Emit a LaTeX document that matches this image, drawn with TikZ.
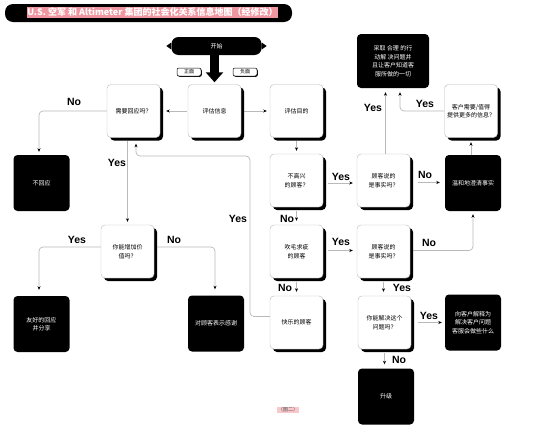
\documentclass[tikz,border=0pt]{standalone}
\usepackage{fontspec}
\setmainfont{Noto Sans CJK SC}
\newfontfamily\labfont{Liberation Sans}
\usetikzlibrary{arrows.meta,shadows,backgrounds}
\definecolor{titlepink}{RGB}{240,150,160}
\definecolor{figpink}{RGB}{248,200,205}
\definecolor{conngray}{RGB}{185,185,185}
\begin{document}
\begin{tikzpicture}[x=1pt,y=-1pt,
  wbox/.style={draw=gray!55, line width=0.4pt, fill=white, rounded corners=4pt,
    minimum width=53pt, minimum height=53pt, inner sep=1pt, align=center,
    font=\fontsize{6}{8.5}\selectfont,
    general shadow={fill=black, shadow xshift=3pt, shadow yshift=-3pt}},
  bbox/.style={fill=black, text=white, rounded corners=4pt,
    minimum width=56pt, minimum height=56pt, inner sep=1pt, align=center,
    font=\fontsize{6}{8.5}\selectfont},
  conn/.style={draw=conngray, line width=0.7pt, rounded corners=4pt,
    -{Stealth[length=3.5pt,width=3pt,color=black]}},
  lab/.style={font=\labfont\bfseries\fontsize{10.5}{12}\selectfont, inner sep=0pt},
  tag/.style={draw=black, line width=0.5pt, rounded corners=2pt, fill=white,
    minimum width=24pt, minimum height=8pt, inner sep=0pt,
    font=\fontsize{5}{6}\selectfont,
    general shadow={fill=black, shadow xshift=0.8pt, shadow yshift=-0.8pt}},
]
\useasboundingbox (0,0) rectangle (560,431);

% title
\node[fill=black, rounded corners=8pt, minimum width=287pt, minimum height=18pt, inner sep=0pt] (titlebar) at (148.5,13) {};
\node[fill=titlepink, text=white, inner sep=0.6pt, minimum height=11pt,
  font=\bfseries\fontsize{9}{10}\selectfont] (title) at (152.5,12.5)
  {U.S. 空军 和 Altimeter 集团的社会化关系信息地图（经修改）};

% start
\node[fill=black, text=white, rounded corners=7pt, minimum width=90pt, minimum height=18pt,
  inner sep=0pt, font=\fontsize{6}{7}\selectfont] (start) at (216.5,46) {开始};
\fill ([yshift=3.5pt]start.west) -- ([xshift=-5pt]start.west) -- ([yshift=-3.5pt]start.west) -- cycle;
\fill ([yshift=3.5pt]start.east) -- ([xshift=5pt]start.east) -- ([yshift=-3.5pt]start.east) -- cycle;

% boxes
\node[wbox] (need) at (133.5,111) {需要回应吗？};
\node[wbox] (info) at (214.5,111) {评估信息};
\node[wbox] (purpose) at (296.5,111) {评估目的};
\node[bbox, minimum width=72pt, minimum height=54pt] (act) at (393,61)
  {采取 合理 的行\\动解 决问题并\\且让客户知道客\\服所做的一切};
\node[wbox] (more) at (471,111) {客户需要/值得\\提供更多的信息？};
\node[bbox] (noreply) at (41.5,183) {不回应};
\node[wbox] (unhappy) at (296.5,180.5) {不高兴\\的顾客？};
\node[wbox] (fact1) at (383.5,180.5) {顾客说的\\是事实吗？};
\node[bbox] (gentle) at (473,183) {温和地澄清事实};
\node[wbox] (value) at (127.5,251.5) {你能增加价\\值吗？};
\node[wbox] (picky) at (296.5,251.5) {吹毛求疵\\的顾客};
\node[wbox] (fact2) at (383.5,251.5) {顾客说的\\是事实吗？};
\node[bbox] (friendly) at (41.5,324) {友好的回应\\并分享};
\node[bbox] (thanks) at (216,323.5) {对顾客表示感谢};
\node[wbox] (happy) at (296.5,322.5) {快乐的顾客};
\node[wbox] (solve) at (384.5,322.5) {你能解决这个\\问题吗？};
\node[bbox] (explain) at (473,322.5) {向客户解释为\\解决客户问题\\客服会做些什么};
\node[bbox] (escalate) at (386,396.5) {升级};

% tags
\node[tag] (pos) at (189,72) {正面};
\node[tag] (neg) at (245,72) {负面};

% big arrow
\draw[line width=8.5pt, -{Triangle[length=10pt,width=17pt]}, shorten >=2pt]
  (start.south -| info.north) -- (info.north);

% connectors
\coordinate (actin2) at ([xshift=7pt]act.south);
\coordinate (yesturn) at (250,156);
\begin{scope}[on background layer]
\fill[white] (0,0) rectangle (560,431);
\draw[conn, shorten <=1pt, shorten >=6pt] (info.west) -- (need.east);
\draw[conn, shorten <=3pt, shorten >=3pt] (info.east) -- (purpose.west);
\draw[conn, shorten >=3pt] (need.west) -| ([xshift=-2.5pt]noreply.north);
\draw[conn, shorten <=3pt, shorten >=3pt] (value.north |- need.south) -- (value.north);
\draw[conn, shorten <=3pt, shorten >=3pt] (purpose.south) -- (unhappy.north);
\draw[conn, shorten <=5pt, shorten >=4pt] ([yshift=-2.5pt]unhappy.east) -- ([yshift=-2.5pt]fact1.west);
\draw[conn, shorten <=8pt, shorten >=5pt] ([yshift=-2pt]fact1.east) -- ([yshift=-2pt]fact1.east -| gentle.west);
\draw[conn, shorten >=4.5pt] (gentle.north -| more.south) -- (more.south);
\draw[conn, shorten >=4pt] (more.west) -| (actin2);
\draw[conn, shorten >=4pt] ([xshift=2pt]fact1.north) -- ([xshift=2pt]fact1.north |- act.south);
\draw[conn, shorten <=4pt, shorten >=4pt] (unhappy.south) -- (picky.north);
\draw[conn, shorten <=5pt, shorten >=4pt] ([yshift=1pt]picky.east) -- ([yshift=1pt]fact2.west);
\draw[conn, shorten >=3pt] ([yshift=1pt]fact2.east) -| (gentle.south);
\draw[conn, shorten <=4pt, shorten >=4pt] (picky.south) -- (happy.north);
\draw[conn, shorten <=4pt, shorten >=4pt] (fact2.south) -- (fact2.south |- solve.north);
\draw[conn, shorten <=7pt, shorten >=3pt] (solve.east) -- (explain.west);
\draw[conn, shorten <=4pt, shorten >=4pt] (solve.south) -- (solve.south |- escalate.north);
\draw[conn, shorten >=6pt] ([yshift=6pt]happy.west) -| (yesturn) -| ([xshift=2.5pt]need.south);
\draw[conn, shorten >=6pt] ([yshift=4.5pt]value.west) -| ([xshift=-2.5pt]friendly.north);
\draw[conn, shorten <=3pt, shorten >=6pt] ([yshift=4.5pt]value.east) -| ([xshift=-1pt]thanks.north);
\end{scope}

% labels
\node[lab] (l1) at (74,102) {No};
\node[lab] (l2) at (117,163) {Yes};
\node[lab] (l3) at (341,176.5) {Yes};
\node[lab] (l4) at (425,174.5) {No};
\node[lab] (l5) at (341,242) {Yes};
\node[lab] (l6) at (429,243) {No};
\node[lab] (l7) at (287,219) {No};
\node[lab] (l8) at (285,288) {No};
\node[lab] (l9) at (402,288) {Yes};
\node[lab] (l10) at (429,315.5) {Yes};
\node[lab] (l11) at (399,360) {No};
\node[lab] (l12) at (373,108) {Yes};
\node[lab] (l13) at (425,104) {Yes};
\node[lab] (l14) at (238,219) {Yes};
\node[lab] (l15) at (77,240) {Yes};
\node[lab] (l16) at (174,240) {No};

% caption
\node[fill=figpink, text=black!70, inner sep=0.8pt, font=\fontsize{5}{6}\selectfont] (fig) at (288,410) {（图二）};
\end{tikzpicture}
\end{document}
